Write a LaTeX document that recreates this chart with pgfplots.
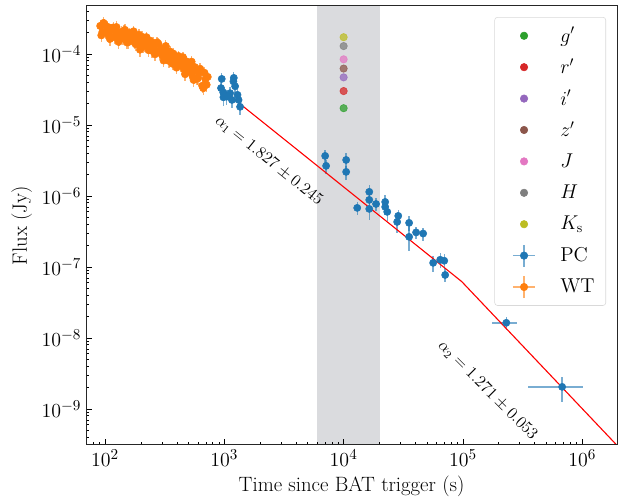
\documentclass[border=0pt]{standalone}
\usepackage{pgfplots}
\usepackage{pgfplotstable}
\pgfplotsset{compat=1.18}
\definecolor{c0}{RGB}{31,119,180}
\definecolor{c1}{RGB}{255,127,14}
\definecolor{c2}{RGB}{44,160,44}
\definecolor{c3}{RGB}{214,39,40}
\definecolor{c4}{RGB}{148,103,189}
\definecolor{c5}{RGB}{140,86,75}
\definecolor{c6}{RGB}{227,119,194}
\definecolor{c7}{RGB}{127,127,127}
\definecolor{c8}{RGB}{188,189,34}
\definecolor{band}{RGB}{218,219,222}
\newcommand{\dotleg}[1]{\addlegendimage{legend image code/.code={\path (0pt,-11.15pt) (28pt,11.15pt); \fill[#1] (14pt,0pt) circle (2.7pt);}}}
\newcommand{\errleg}[1]{\addlegendimage{legend image code/.code={\path (0pt,-11.15pt) (28pt,11.15pt); \draw[#1, line width=1.1pt, opacity=0.6] (6pt,0pt)--(22pt,0pt) (14pt,-8pt)--(14pt,8pt); \fill[#1] (14pt,0pt) circle (2.7pt);}}}
\pgfplotstableread{
t F e
91.2 2.48e-4 0.2
93.1 1.83e-4 0.2
95.1 2.04e-4 0.2
97.1 2.73e-4 0.2
99.1 2.58e-4 0.2
101.2 2.03e-4 0.2
103.3 2.11e-4 0.2
105.4 2.40e-4 0.2
107.6 1.81e-4 0.2
109.9 1.63e-4 0.2
112.2 2.18e-4 0.2
114.6 2.21e-4 0.2
117.0 2.35e-4 0.2
119.4 1.73e-4 0.2
121.9 1.79e-4 0.2
124.5 2.39e-4 0.2
127.1 1.97e-4 0.2
129.7 1.48e-4 0.2
132.4 1.61e-4 0.2
135.2 1.96e-4 0.2
138.0 2.04e-4 0.2
140.9 1.68e-4 0.2
143.9 2.10e-4 0.2
146.9 2.18e-4 0.2
150.0 1.71e-4 0.2
153.1 1.45e-4 0.2
156.3 1.47e-4 0.2
159.6 1.96e-4 0.2
162.9 1.85e-4 0.2
166.3 1.66e-4 0.2
169.8 1.88e-4 0.2
173.4 2.08e-4 0.2
177.0 1.46e-4 0.2
180.7 1.37e-4 0.2
184.5 1.66e-4 0.2
188.4 1.68e-4 0.2
192.3 1.86e-4 0.2
196.3 1.15e-4 0.2
200.4 1.40e-4 0.2
204.6 1.74e-4 0.2
208.9 1.27e-4 0.2
213.3 1.34e-4 0.2
217.8 1.56e-4 0.2
222.4 1.72e-4 0.2
227.0 1.38e-4 0.2
231.8 1.13e-4 0.2
236.6 1.54e-4 0.2
241.6 1.35e-4 0.2
246.6 1.11e-4 0.2
251.8 1.44e-4 0.2
257.0 1.33e-4 0.2
262.4 9.91e-5 0.2
267.9 1.12e-4 0.2
273.5 1.45e-4 0.2
279.3 1.40e-4 0.2
285.1 1.04e-4 0.2
291.1 1.11e-4 0.2
297.2 1.19e-4 0.2
303.4 9.5e-5 0.2
309.7 8.09e-5 0.2
316.2 1.17e-4 0.2
322.8 1.29e-4 0.2
329.6 1.07e-4 0.2
336.5 9.35e-5 0.2
343.6 7.98e-5 0.2
350.8 1.08e-4 0.2
358.1 9.42e-5 0.2
365.6 7.31e-5 0.2
373.3 1.01e-4 0.2
381.1 9.46e-5 0.2
389.0 7.89e-5 0.2
397.2 6.43e-5 0.2
405.5 7.23e-5 0.2
414.0 9.31e-5 0.2
422.7 8.51e-5 0.2
431.6 6.93e-5 0.2
440.6 7.80e-5 0.2
449.8 8.97e-5 0.2
459.2 6.08e-5 0.2
468.8 5.19e-5 0.2
478.6 7.87e-5 0.2
488.7 7.19e-5 0.2
498.9 6.28e-5 0.2
509.3 5.61e-5 0.2
520.0 6.76e-5 0.2
530.9 7.78e-5 0.2
542.0 4.92e-5 0.2
553.4 4.30e-5 0.2
564.9 6.52e-5 0.2
576.8 5.96e-5 0.2
588.8 4.50e-5 0.2
601.2 4.55e-5 0.2
613.8 5.48e-5 0.2
626.6 6.17e-5 0.2
639.7 5.64e-5 0.2
653.1 3.56e-5 0.2
666.8 3.30e-5 0.2
680.8 5.42e-5 0.2
695.0 4.42e-5 0.2
709.6 3.68e-5 0.2
724.4 4.75e-5 0.2
}\wtdata
\pgfplotstableread{
t F ex ey
951 4.45e-5 20 0.9e-5
938 3.3e-5 20 0.7e-5
979 2.87e-5 20 0.6e-5
982 2.45e-5 20 0.6e-5
1047 2.5e-5 20 0.6e-5
1117 2.8e-5 20 0.6e-5
1158 2.25e-5 20 0.5e-5
1191 4.1e-5 20 0.8e-5
1200 4.6e-5 20 0.9e-5
1231 3.5e-5 20 0.7e-5
1289 2.65e-5 20 0.6e-5
1316 2.25e-5 20 0.5e-5
1355 1.8e-5 20 0.4e-5
7000 3.66e-6 200 0.8e-6
7130 2.65e-6 200 0.6e-6
10500 3.21e-6 300 0.8e-6
10500 2.18e-6 300 0.5e-6
13000 6.78e-7 300 1.4e-7
16400 1.14e-6 300 2.8e-7
16400 8.79e-7 300 2.0e-7
16400 6.56e-7 300 2.0e-7
18700 7.7e-7 300 1.6e-7
22300 8.22e-7 400 2.0e-7
22300 7.0e-7 400 1.6e-7
23200 5.96e-7 400 1.5e-7
28700 5.23e-7 500 1.2e-7
28100 4.3e-7 500 1.3e-7
35400 4.17e-7 600 1.0e-7
35400 2.65e-7 600 1.0e-7
40500 3.06e-7 700 0.6e-7
46400 2.95e-7 800 0.6e-7
56300 1.14e-7 900 0.3e-7
64500 1.26e-7 1000 0.3e-7
69700 1.22e-7 1000 0.3e-7
71000 7.7e-8 1000 1.5e-8
231000 1.63e-8 55000 0.35e-8
679000 2.04e-9 330000 0.78e-9
}\pcdata
\begin{document}
\begin{tikzpicture}
\begin{axis}[
  scale only axis, width=383.8pt, height=317.3pt,
  xmode=log, ymode=log,
  xmin=69.3, xmax=1.96e6, ymin=3.1e-10, ymax=4.74e-4,
  axis on top,
  tick pos=left, tick align=inside,
  major tick length=4pt, minor tick length=2.2pt,
  every tick/.style={black, line width=0.5pt},
  axis line style={line width=0.7pt, black!85},
  ticklabel style={font=\fontsize{15}{18}\selectfont},
  label style={font=\fontsize{15}{18}\selectfont},
  xlabel={Time since BAT trigger (s)},
  ylabel={Flux (Jy)},
  legend cell align=left,
  legend style={at={(rel axis cs:1,1)}, anchor=north east, xshift=-8pt, yshift=-8pt,
    draw=black!15, rounded corners=2pt, fill=white,
    font=\fontsize{14.5}{17}\selectfont, row sep=0pt, column sep=11pt,
    inner xsep=7pt, inner ysep=2pt, nodes={inner sep=1pt}},
]
\coordinate (ll) at (rel axis cs:0,0);
\coordinate (ur) at (rel axis cs:1,1);
\fill[band] (axis cs:6000,3.1e-10) rectangle (axis cs:20000,4.74e-4);
% WT
\addplot[only marks, mark=*, mark size=2.7pt, color=c1, forget plot,
  error bars/.cd, y dir=both, y explicit relative, error mark=none,
  error bar style={line width=1pt, c1, opacity=0.6}]
  table[x=t, y=F, y error=e] {\wtdata};
% PC
\addplot[only marks, mark=*, mark size=2.6pt, color=c0, forget plot,
  error bars/.cd, x dir=both, x explicit, y dir=both, y explicit, error mark=none,
  error bar style={line width=1pt, c0, opacity=0.6}]
  table[x=t, y=F, x error=ex, y error=ey] {\pcdata};
% fit line
\addplot[red, line width=0.8pt, forget plot] coordinates {(1014,2.92e-5) (97700,6.21e-8) (2.3e6,2.3e-10)};
% optical / NIR
\addplot[only marks, mark=*, mark size=2.7pt, c2, opacity=0.75, forget plot] coordinates {(10000,1.72e-5)};
\addplot[only marks, mark=*, mark size=2.7pt, c3, opacity=0.75, forget plot] coordinates {(10000,3.0e-5)};
\addplot[only marks, mark=*, mark size=2.7pt, c4, opacity=0.75, forget plot] coordinates {(10000,4.68e-5)};
\addplot[only marks, mark=*, mark size=2.7pt, c5, opacity=0.75, forget plot] coordinates {(10000,6.22e-5)};
\addplot[only marks, mark=*, mark size=2.7pt, c6, opacity=0.75, forget plot] coordinates {(10000,8.4e-5)};
\addplot[only marks, mark=*, mark size=2.7pt, c7, opacity=0.75, forget plot] coordinates {(10000,1.29e-4)};
\addplot[only marks, mark=*, mark size=2.7pt, c8, opacity=0.75, forget plot] coordinates {(10000,1.72e-4)};
% annotations
\node[rotate=-39, font=\fontsize{11.5}{14}\selectfont] at (axis cs:2370,3.11e-6) {$\alpha_1 = 1.827 \pm 0.245$};
\node[rotate=-45, font=\fontsize{11.5}{14}\selectfont] at (axis cs:1.61e5,1.82e-9) {$\alpha_2 = 1.271 \pm 0.053$};
% legend
\dotleg{c2}\addlegendentry{$g'$}
\dotleg{c3}\addlegendentry{$r'$}
\dotleg{c4}\addlegendentry{$i'$}
\dotleg{c5}\addlegendentry{$z'$}
\dotleg{c6}\addlegendentry{$J$}
\dotleg{c7}\addlegendentry{$H$}
\dotleg{c8}\addlegendentry{$K_\mathrm{s}$}
\errleg{c0}\addlegendentry{PC}
\errleg{c1}\addlegendentry{WT}
\end{axis}
\path (ll) ++(-62.2pt,-39.0pt) (ur) ++(10.8pt,4.3pt);
\end{tikzpicture}
\end{document}
